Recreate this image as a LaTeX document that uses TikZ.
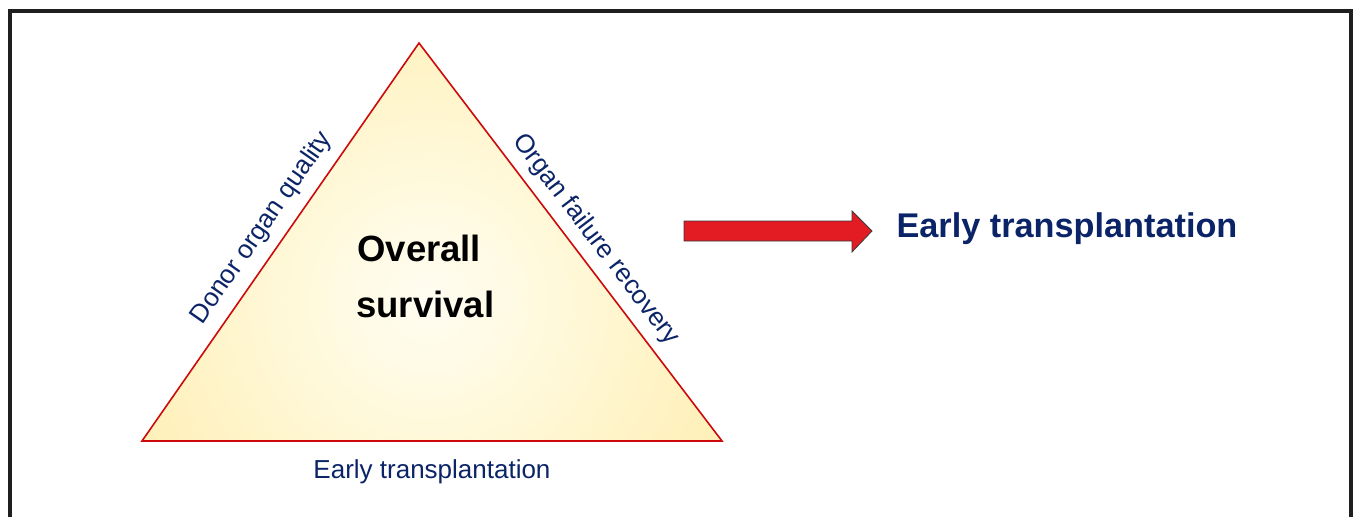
\documentclass[tikz,border=0pt]{standalone}
\usepackage{fontspec}
\setmainfont{Liberation Sans}
\usetikzlibrary{calc}
\definecolor{navy}{HTML}{0B2468}
\definecolor{triedge}{HTML}{CC0A0A}
\definecolor{tin}{HTML}{FFFDF2}
\definecolor{tmid}{HTML}{FFF8D8}
\definecolor{tout}{HTML}{FFE48A}
\definecolor{arrowred}{HTML}{E31B22}
\definecolor{arrowedge}{HTML}{3A3A3A}
\pgfdeclareradialshading{trishade}{\pgfpointorigin}{color(0bp)=(tin); color(12bp)=(tmid); color(48bp)=(tout); color(60bp)=(tout)}
\tikzset{
  sidelabel/.style={font=\fontsize{19.5}{23}\selectfont, text=navy, inner sep=0pt},
  bigtitle/.style={font=\fontsize{25.7}{30}\selectfont\bfseries, text=navy, inner sep=0pt},
  centretext/.style={font=\fontsize{27.4}{32}\selectfont\bfseries, text=black, inner sep=0pt},
  triborder/.style={draw=triedge, line width=1.2pt, line join=miter},
  bigarrow/.style={fill=arrowred, draw=arrowedge, line width=0.6pt},
  frameline/.style={draw=black!88, line width=2.3pt}
}
\begin{document}
\begin{tikzpicture}[x=0.75pt,y=-0.75pt]
\useasboundingbox (0,0) rectangle (1354,517);
% frame (open at the bottom)
\draw[frameline] (10,530) -- (10,11) -- (1351,11) -- (1351,530);
% triangle corners
\coordinate (top) at (419,43);
\coordinate (bl) at (142,441);
\coordinate (br) at (722,441);
\begin{scope}
  \clip (top) -- (bl) -- (br) -- cycle;
  \shade[shading=trishade] (128,0) rectangle (728,600);
\end{scope}
\draw[triborder] (top) -- (bl) -- (br) -- cycle;
% centre text
\node[centretext, anchor=base west] (overall) at (357,261) {Overall};
\node[centretext, anchor=base west] (survival) at (356,317) {survival};
% side labels
\node[sidelabel, rotate=55.2, anchor=base] (donor) at ($(bl)!0.5!(top)+(-13,-10)$) {Donor organ quality};
\node[sidelabel, rotate=-52.7, anchor=base] (organ) at ($(top)!0.52!(br)+(14,-6)$) {Organ failure recovery};
\node[sidelabel, anchor=base] (early) at (432,478) {Early transplantation};
% arrow
\draw[bigarrow] (684,221) -- (852,221) -- (852,211) -- (872,231) -- (852,252) -- (852,241) -- (684,241) -- cycle;
\node[bigtitle, anchor=base] (result) at (1067,237) {Early transplantation};
\end{tikzpicture}
\end{document}
